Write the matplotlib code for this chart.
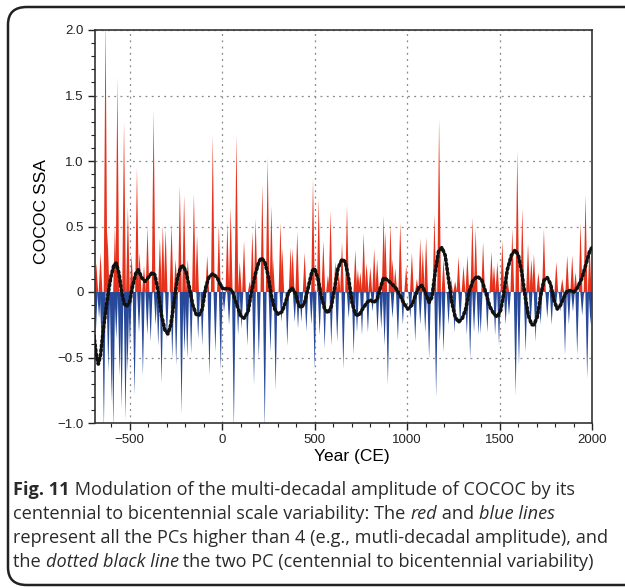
import matplotlib.pyplot as plt
import numpy as np
from matplotlib.patches import FancyBboxPatch
from matplotlib.ticker import MultipleLocator, FixedLocator

# multi-decadal spikes (year, amplitude)
red_years = [-681, -658, -631, -620, -580, -567, -531, -510, -490, -461, -447, -423, -404,
             -371, -337, -321, -306, -274, -252, -229, -206, -186, -153, -136, -81, -51,
             -18, 28, 46, 77, 95, 118, 149, 163, 181, 217, 246, 266, 275, 315, 325, 370,
             381, 406, 446, 491, 522, 547, 572, 586, 612, 630, 648, 675, 720, 734, 747,
             765, 781, 801, 822, 838, 873, 882, 910, 921, 936, 963, 995, 1026, 1053, 1071,
             1085, 1103, 1148, 1173, 1197, 1238, 1260, 1278, 1305, 1326, 1353, 1371, 1411,
             1456, 1470, 1488, 1515, 1542, 1569, 1596, 1623, 1654, 1672, 1686, 1710, 1740,
             1776, 1807, 1839, 1866, 1893, 1911, 1938, 1965, 1987]
red_vals = [0.22, 0.30, 2.10, 0.46, 0.50, 1.64, 1.30, 0.65, 0.28, 0.95, 0.30, 0.20, 0.50,
            1.39, 0.41, 0.51, 0.48, 0.52, 0.25, 0.81, 0.74, 0.25, 0.75, 0.43, 0.28, 1.20,
            0.51, 0.53, 0.65, 1.20, 0.23, 0.39, 0.08, 0.46, 0.56, 0.82, 1.03, 0.66, 0.25,
            0.53, 0.33, 0.34, 0.33, 0.46, 0.30, 0.86, 0.71, 0.39, 0.13, 0.62, 0.23, 0.15,
            0.38, 0.66, 0.32, 0.17, 0.15, 0.45, 0.22, 0.19, 0.33, 0.25, 0.58, 0.46, 0.52,
            0.25, 0.18, 0.53, 0.20, 0.30, 0.10, 0.41, 0.33, 0.42, 0.59, 1.32, 0.25, 0.10,
            0.08, 0.27, 0.20, 0.28, 0.57, 0.48, 0.38, 0.31, 0.20, 0.23, 0.39, 0.10, 0.48,
            1.08, 0.64, 0.37, 0.25, 0.29, 0.15, 0.48, 0.05, 0.23, 0.10, 0.28, 0.28, 0.15,
            0.53, 0.74, 0.36]

blue_years = [-684, -666, -652, -640, -616, -598, -589, -573, -555, -544, -523, -512, -499,
              -474, -450, -429, -405, -387, -360, -346, -328, -299, -270, -249, -220, -204,
              -189, -168, -130, -108, -69, -37, -8, 10, 37, 63, 86, 104, 136, 172, 198, 230,
              261, 289, 320, 352, 392, 410, 428, 455, 482, 500, 527, 554, 590, 622, 655, 684,
              711, 729, 756, 788, 813, 840, 860, 878, 896, 921, 950, 977, 1017, 1044, 1071,
              1098, 1119, 1157, 1177, 1197, 1224, 1256, 1287, 1323, 1341, 1362, 1386, 1398,
              1434, 1476, 1497, 1533, 1551, 1587, 1605, 1641, 1668, 1695, 1722, 1758, 1782,
              1803, 1830, 1854, 1875, 1897, 1920, 1947, 1974, 1992]
blue_vals = [-0.33, -0.20, -0.41, -1.05, -0.61, -0.84, -1.05, -0.36, -0.64, -0.89, -0.98,
             -0.61, -0.41, -0.79, -0.31, -0.64, -0.33, -0.38, -0.25, -0.41, -0.70, -0.36,
             -0.51, -0.56, -0.93, -0.46, -0.51, -0.47, -0.36, -0.41, -0.64, -0.46, -0.60,
             -0.15, -0.25, -1.05, -0.33, -0.28, -0.41, -0.71, -0.51, -1.05, -0.46, -0.75,
             -0.23, -0.41, -0.23, -0.28, -0.23, -0.30, -0.25, -0.59, -0.33, -0.43, -0.41,
             -0.38, -0.59, -0.20, -0.48, -0.31, -0.33, -0.31, -0.15, -0.31, -0.28, -0.41,
             -0.71, -0.20, -0.37, -0.25, -0.20, -0.38, -0.25, -0.31, -0.51, -0.80, -0.38,
             -0.46, -0.25, -0.31, -0.25, -0.33, -0.51, -0.31, -0.33, -0.32, -0.31, -0.33,
             -0.41, -0.25, -0.18, -0.79, -0.56, -0.46, -0.25, -0.38, -0.25, -0.20, -0.25,
             -0.13, -0.15, -0.48, -0.25, -0.15, -0.48, -0.18, -0.66, -0.25]

# centennial to bicentennial component (two leading PCs)
rc_years = [-694, -681, -670, -658, -640, -621, -603, -585, -573, -558, -544, -530, -517,
            -501, -487, -468, -454, -436, -418, -400, -378, -364, -346, -328, -310, -294,
            -278, -261, -243, -225, -211, -195, -177, -159, -141, -126, -108, -90, -73, -51,
            -27, -11, 5, 32, 54, 77, 100, 118, 140, 158, 180, 198, 212, 230, 248, 266, 284,
            302, 324, 342, 360, 378, 396, 414, 428, 446, 468, 486, 500, 518, 536, 554, 572,
            590, 608, 626, 648, 666, 684, 702, 720, 738, 759, 783, 801, 819, 837, 855, 873,
            896, 918, 939, 963, 984, 1004, 1026, 1044, 1065, 1080, 1098, 1119, 1134, 1152,
            1170, 1188, 1206, 1224, 1242, 1260, 1278, 1299, 1317, 1335, 1357, 1380, 1404,
            1425, 1447, 1470, 1488, 1506, 1524, 1542, 1564, 1584, 1602, 1620, 1638, 1656,
            1674, 1686, 1704, 1722, 1740, 1758, 1776, 1794, 1812, 1830, 1848, 1866, 1884,
            1902, 1920, 1944, 1965, 1987, 2001]
rc_vals = [-0.33, -0.48, -0.55, -0.48, -0.25, -0.05, 0.11, 0.21, 0.22, 0.14, 0.00, -0.09,
           -0.11, -0.08, 0.03, 0.14, 0.17, 0.11, 0.08, 0.11, 0.15, 0.13, 0.00, -0.18, -0.29,
           -0.32, -0.25, -0.08, 0.10, 0.19, 0.20, 0.15, 0.03, -0.10, -0.17, -0.18, -0.13,
           0.03, 0.11, 0.14, 0.11, 0.06, 0.02, 0.03, 0.01, -0.09, -0.18, -0.20, -0.15, 0.00,
           0.14, 0.23, 0.26, 0.23, 0.13, -0.03, -0.13, -0.17, -0.15, -0.08, 0.00, 0.03,
           -0.01, -0.10, -0.12, -0.08, 0.05, 0.16, 0.18, 0.10, -0.03, -0.13, -0.16, -0.11,
           0.03, 0.18, 0.25, 0.23, 0.10, -0.08, -0.17, -0.18, -0.13, -0.08, -0.06, -0.08,
           -0.06, 0.03, 0.11, 0.09, 0.06, 0.03, -0.03, -0.09, -0.13, -0.10, -0.03, 0.04,
           0.05, 0.00, -0.08, -0.04, 0.15, 0.31, 0.34, 0.28, 0.10, -0.08, -0.19, -0.23,
           -0.20, -0.13, 0.00, 0.09, 0.12, 0.09, 0.00, -0.11, -0.17, -0.19, -0.14, 0.00,
           0.17, 0.28, 0.32, 0.28, 0.15, -0.03, -0.18, -0.25, -0.25, -0.19, -0.03, 0.09,
           0.11, 0.06, -0.06, -0.13, -0.10, -0.04, 0.01, 0.01, 0.00, 0.03, 0.10, 0.20,
           0.31, 0.34]

y_ticks = [-1.0, -0.5, 0, 0.5, 1.0, 1.5, 2.0]
y_labels = ['\u22121.0', '\u22120.5', '0', '0.5', '1.0', '1.5', '2.0']
x_ticks = [-500, 0, 500, 1000, 1500, 2000]
x_labels = ['\u2212500', '0', '500', '1000', '1500', '2000']

RED = '#e6321c'
BLUE = '#28499a'
hw = 10  # half width of a spike, in years

plt.rcParams['font.family'] = ['Liberation Sans', 'DejaVu Sans']

fig = plt.figure(figsize=(6.25, 5.88), dpi=100)
ax = fig.add_axes([95 / 625, 1 - 423 / 588, 497 / 625, 393 / 588])

for yr, v in zip(red_years, red_vals):
    ax.fill([yr - hw, yr, yr + hw], [0, v, 0], color=RED, lw=0, zorder=2)
for yr, v in zip(blue_years, blue_vals):
    ax.fill([yr - hw, yr, yr + hw], [0, v, 0], color=BLUE, lw=0, zorder=2)

ax.plot(rc_years, rc_vals, color='#111111', lw=2.6,
        linestyle=(0, (0.5, 0.8)), dash_capstyle='round', zorder=4)

ax.set_xlim(-688, 2000)
ax.set_ylim(-1.0, 2.0)
ax.xaxis.set_major_locator(FixedLocator(x_ticks))
ax.set_xticklabels(x_labels)
ax.yaxis.set_major_locator(FixedLocator(y_ticks))
ax.set_yticklabels(y_labels)
ax.xaxis.set_minor_locator(MultipleLocator(100))
ax.yaxis.set_minor_locator(MultipleLocator(0.1))
ax.tick_params(which='major', direction='out', length=5, width=1, labelsize=9.5,
               colors='#222222', pad=3)
ax.tick_params(which='minor', direction='out', length=3, width=0.8, colors='#222222')
ax.tick_params(top=False, right=False)
ax.grid(True, which='major', color='#888888', lw=0.9, linestyle=(0, (1.5, 3.5)), zorder=1)
for s in ax.spines.values():
    s.set_linewidth(1.2)
    s.set_color('#333333')

ax.set_ylabel('COCOC SSA', fontsize=12.6)
ax.yaxis.set_label_coords(-46 / 497, 0.539)
ax.set_xlabel('Year (CE)', fontsize=12.5)
ax.xaxis.set_label_coords(0.517, -26 / 393)

# rounded frame around the figure
frame = FancyBboxPatch((8 / 625, 3 / 588), 640 / 625, 578 / 588,
                       boxstyle='round,pad=0,rounding_size=0.03',
                       transform=fig.transFigure, fill=False, lw=1.8,
                       edgecolor='#222222', clip_on=False)
fig.patches.append(frame)

# caption with mixed bold / italic runs
caption = [
    [('Fig. 11', 'bold', 'normal'),
     (' Modulation of the multi-decadal amplitude of COCOC by its', 'normal', 'normal')],
    [('centennial to bicentennial scale variability: The ', 'normal', 'normal'),
     ('red', 'normal', 'italic'), (' and ', 'normal', 'normal'),
     ('blue lines', 'normal', 'italic')],
    [('represent all the PCs higher than 4 (e.g., mutli-decadal amplitude), and',
      'normal', 'normal')],
    [('the ', 'normal', 'normal'), ('dotted black line', 'normal', 'italic'),
     (' the two PC (centennial to bicentennial variability)', 'normal', 'normal')],
]
renderer = fig.canvas.get_renderer()
line_y = [490, 514, 538, 562]
for runs, yp in zip(caption, line_y):
    xp = 13
    for txt, weight, style in runs:
        t = fig.text(xp / 625, 1 - yp / 588, txt, fontsize=13.1, family='Open Sans',
                     weight=weight, style=style, va='center', ha='left', color='#2a2a2a')
        xp += t.get_window_extent(renderer).width

fig.savefig('out.png', dpi=100)
